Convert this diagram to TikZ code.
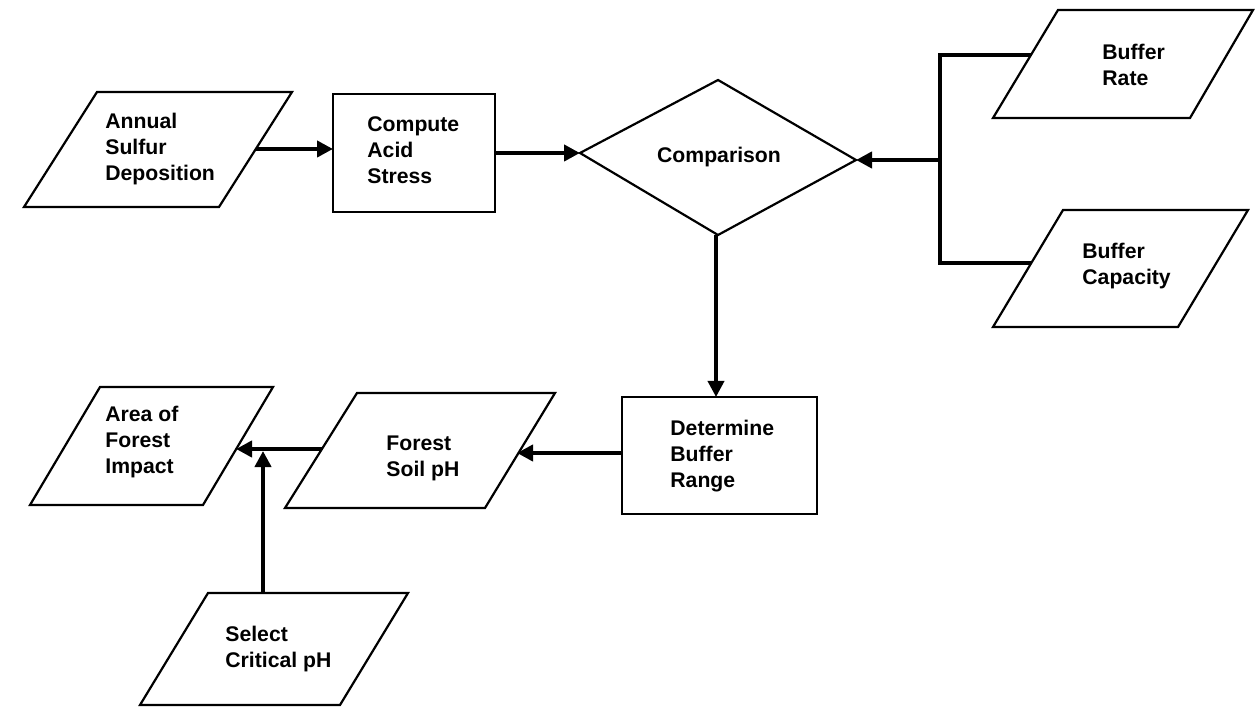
\documentclass[tikz,border=0pt]{standalone}
\usepackage{fontspec}
\setmainfont{Liberation Sans}
\usetikzlibrary{arrows.meta}
\begin{document}
\begin{tikzpicture}[x=0.5pt,y=-0.5pt,
  shapeline/.style={line width=1.1pt, line join=miter},
  conn/.style={line width=2.2pt},
  arr/.style={conn, -{Triangle[length=8pt,width=8pt]}},
  lbl/.style={font=\bfseries\fontsize{10.6}{13}\selectfont, align=left, inner sep=0pt, anchor=west},
  clbl/.style={font=\bfseries\fontsize{10.6}{13}\selectfont, inner sep=0pt}]
\useasboundingbox (0,0) rectangle (1256,710);

% shapes
\draw[shapeline] (97,92) -- (292,92) -- (219,207) -- (24,207) -- cycle;      % Annual
\draw[shapeline] (333,94) rectangle (495,212);                               % Compute
\draw[shapeline] (718,80) -- (856,160) -- (718,235) -- (580,153) -- cycle;   % Comparison
\draw[shapeline] (1058,10) -- (1253,10) -- (1190,118) -- (993,118) -- cycle; % Buffer Rate
\draw[shapeline] (1063,210) -- (1248,210) -- (1178,327) -- (993,327) -- cycle; % Buffer Capacity
\draw[shapeline] (622,397) rectangle (817,514);                              % Determine
\draw[shapeline] (357,393) -- (555,393) -- (485,508) -- (285,508) -- cycle;  % Forest Soil pH
\draw[shapeline] (100,387) -- (273,387) -- (203,505) -- (30,505) -- cycle;   % Area
\draw[shapeline] (208,593) -- (408,593) -- (340,705) -- (140,705) -- cycle;  % Select

% labels
\node[lbl] (tA) at (105,149) {Annual\\Sulfur\\Deposition};
\node[lbl] (tC) at (367,150) {Compute\\Acid\\Stress};
\node[clbl] (tCmp) at (719,157) {Comparison};
\node[lbl] (tBR) at (1102,65) {Buffer\\Rate};
\node[lbl] (tBC) at (1082,266) {Buffer\\Capacity};
\node[lbl] (tD) at (670,456) {Determine\\Buffer\\Range};
\node[lbl] (tF) at (386,458) {Forest\\Soil pH};
\node[lbl] (tAr) at (105,442) {Area of\\Forest\\Impact};
\node[lbl] (tS) at (225,649) {Select\\Critical pH};

% connector points
\coordinate (aOut) at (256,149);
\coordinate (cIn) at (333,149);
\coordinate (cOut) at (495,153);
\coordinate (dL) at (580,153);
\coordinate (dR) at (856,160);
\coordinate (dB) at (716,235);
\coordinate (brL) at (1031,55);
\coordinate (bcL) at (1031,263);
\coordinate (busT) at (940,55);
\coordinate (busB) at (940,263);
\coordinate (busM) at (940,160);
\coordinate (detT) at (716,397);
\coordinate (detL) at (622,453);
\coordinate (fR) at (517,453);
\coordinate (fL) at (322,449);
\coordinate (arR) at (236,449);
\coordinate (sT) at (263,593);
\coordinate (sJ) at (263,451);

% connectors
\draw[arr] (aOut) -- (cIn);
\draw[arr] (cOut) -- (dL);
\draw[conn, line join=miter] (brL) -- (busT) -- (busB) -- (bcL);
\draw[arr] (busM) -- (dR);
\draw[arr, line width=1.8pt] (dB) -- (detT);
\draw[arr] (detL) -- (fR |- detL);
\draw[arr] (fL) -- (arR);
\draw[arr] (sT) -- (sJ);
\end{tikzpicture}
\end{document}
